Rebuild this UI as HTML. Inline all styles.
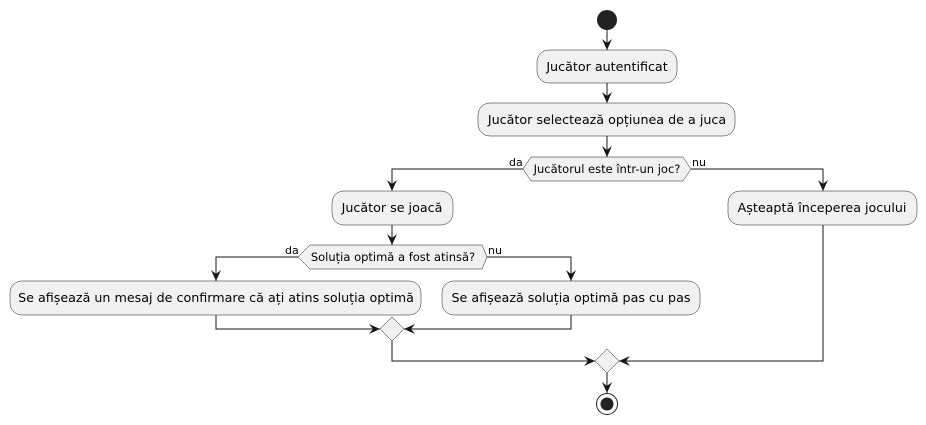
<!DOCTYPE html>
<html><head><meta charset="utf-8"><style>
body{margin:0;background:#fff}
svg{display:block}
text{font-family:"DejaVu Sans","Liberation Sans",sans-serif;fill:#000}
.b{fill:#f1f1f1;stroke:#181818;stroke-width:0.5}
.l{fill:none;stroke:#181818;stroke-width:1}
.a{fill:#181818}
.t{font-size:12.7px}
.d{font-size:11.5px}
</style></head><body>
<svg width="926" height="425" viewBox="0 0 926 425" xmlns="http://www.w3.org/2000/svg">
<circle cx="607" cy="20" r="10" fill="#222"/>
<line class="l" x1="607" y1="30" x2="607" y2="50"/>
<polygon class="a" points="602,39 607,50 612,39 607,43"/>
<rect class="b" x="537" y="50" width="140" height="33" rx="12"/>
<text class="t" x="607" y="71" text-anchor="middle">Jucător autentificat</text>
<line class="l" x1="607" y1="83" x2="607" y2="103"/>
<polygon class="a" points="602,92 607,103 612,92 607,96"/>
<rect class="b" x="478" y="103" width="257" height="33" rx="12"/>
<text class="t" x="607" y="124" text-anchor="middle">Jucător selectează opțiunea de a juca</text>
<line class="l" x1="607" y1="136" x2="607" y2="157"/>
<polygon class="a" points="602,146 607,157 612,146 607,150"/>
<polygon class="b" points="523,169 531,157 683,157 691,169 683,181 531,181"/>
<text class="d" x="607" y="173" text-anchor="middle">Jucătorul este într-un joc?</text>
<text x="509" y="166" font-size="11">da</text>
<text x="692" y="166" font-size="11">nu</text>
<polyline class="l" points="523,169 392,169 392,191"/>
<polygon class="a" points="387,180 392,191 397,180 392,184"/>
<polyline class="l" points="691,169 823,169 823,191"/>
<polygon class="a" points="818,180 823,191 828,180 823,184"/>
<rect class="b" x="332" y="191" width="121" height="34" rx="12"/>
<text class="t" x="392" y="212" text-anchor="middle">Jucător se joacă</text>
<rect class="b" x="728" y="191" width="189" height="34" rx="12"/>
<text class="t" x="822" y="212" text-anchor="middle">Așteaptă începerea jocului</text>
<line class="l" x1="392" y1="225" x2="392" y2="245"/>
<polygon class="a" points="387,234 392,245 397,234 392,238"/>
<polygon class="b" points="298,257 310,245 482,245 487,257 482,269 310,269"/>
<text class="d" x="393" y="261" text-anchor="middle">Soluția optimă a fost atinsă?</text>
<text x="285" y="254" font-size="11">da</text>
<text x="488" y="254" font-size="11">nu</text>
<polyline class="l" points="298,257 216,257 216,281"/>
<polygon class="a" points="211,270 216,281 221,270 216,274"/>
<polyline class="l" points="487,257 571,257 571,281"/>
<polygon class="a" points="566,270 571,281 576,270 571,274"/>
<rect class="b" x="10" y="281" width="411" height="34" rx="12"/>
<text class="t" x="216" y="302" text-anchor="middle">Se afișează un mesaj de confirmare că ați atins soluția optimă</text>
<rect class="b" x="442" y="281" width="258" height="34" rx="12"/>
<text class="t" x="571" y="302" text-anchor="middle">Se afișează soluția optimă pas cu pas</text>
<polyline class="l" points="216,315 216,329 380,329"/>
<polygon class="a" points="369,324 380,329 369,334 373,329"/>
<polyline class="l" points="571,315 571,329 404,329"/>
<polygon class="a" points="415,324 404,329 415,334 411,329"/>
<polygon class="b" points="392,317 404,329 392,341 380,329"/>
<polyline class="l" points="392,341 392,361 595,361"/>
<polygon class="a" points="584,356 595,361 584,366 588,361"/>
<polyline class="l" points="823,225 823,361 619,361"/>
<polygon class="a" points="630,356 619,361 630,366 626,361"/>
<polygon class="b" points="607,349 619,361 607,373 595,361"/>
<line class="l" x1="607" y1="373" x2="607" y2="393"/>
<polygon class="a" points="602,382 607,393 612,382 607,386"/>
<circle cx="607" cy="404" r="10.5" fill="none" stroke="#222" stroke-width="1"/>
<circle cx="607" cy="404" r="6.5" fill="#222"/>
</svg>
</body></html>
